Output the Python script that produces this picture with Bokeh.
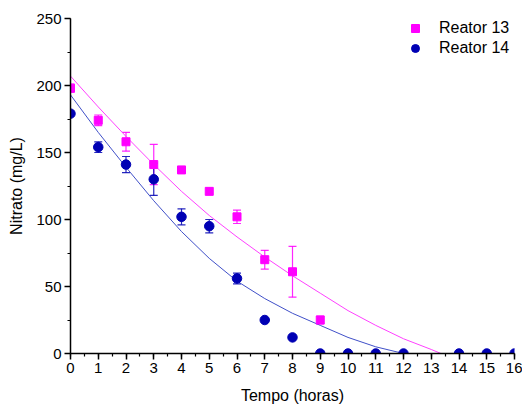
from bokeh.plotting import figure
from bokeh.models import (Range1d, SingleIntervalTicker, Legend, LegendItem,
                          Whisker, TeeHead, ColumnDataSource)
from bokeh.embed import file_html
from bokeh.resources import INLINE

# ---- data ----
hours13 = [0, 1, 2, 3, 4, 5, 6, 7, 8, 9]
reator13 = [198, 174, 158, 141, 137, 121, 102, 70, 61, 25]
err13 = [3, 4, 7, 15, 0, 0, 5, 7, 19, 3]

hours14 = [0, 1, 2, 3, 4, 5, 6, 7, 8, 9, 10, 11, 12, 14, 15, 16]
reator14 = [179, 154, 141, 130, 102, 95, 56, 25, 12, 0, 0, 0, 0, 0, 0, 0]
err14 = [0, 4, 6, 12, 6, 5, 4, 0, 0, 0, 0, 0, 0, 0, 0, 0]

fit_hours13 = [0, 1, 2, 3, 4, 5, 6, 7, 8, 9, 10, 11, 12, 13, 13.35]
fit13 = [207, 184, 162, 141, 121, 103, 87, 72, 58, 45, 32, 21, 11, 3, 0]
fit_hours14 = [0, 1, 2, 3, 4, 5, 6, 7, 8, 9, 10, 11, 12]
fit14 = [193, 165, 139, 114, 91, 71, 54, 41, 30, 21, 12, 5, 0]

labels = ["Reator 13", "Reator 14"]
x_title = "Tempo (horas)"
y_title = "Nitrato (mg/L)"

MAG = "#FF00FF"
BLUE = "#0000B4"
FONT = "Liberation Sans"

p = figure(width=522, height=406, output_backend="svg", toolbar_location=None,
           x_range=Range1d(0, 16), y_range=Range1d(0, 250),
           min_border_left=70, min_border_right=8, min_border_top=18,
           min_border_bottom=52)
p.outline_line_color = None
p.background_fill_color = "white"
p.border_fill_color = "white"
p.xgrid.visible = False
p.ygrid.visible = False

p.xaxis.ticker = SingleIntervalTicker(interval=1, num_minor_ticks=2)
p.yaxis.ticker = SingleIntervalTicker(interval=50, num_minor_ticks=2)
for ax in (p.xaxis, p.yaxis):
    ax.axis_line_width = 1.5
    ax.axis_line_color = "black"
    ax.major_tick_line_color = "black"
    ax.minor_tick_line_color = "black"
    ax.major_tick_line_width = 1.5
    ax.minor_tick_line_width = 1.2
    ax.major_tick_out = 6
    ax.major_tick_in = 0
    ax.minor_tick_out = 3
    ax.minor_tick_in = 0
    ax.major_label_text_font = FONT
    ax.major_label_text_font_size = "15px"
    ax.major_label_text_color = "black"
    ax.axis_label_text_font = FONT
    ax.axis_label_text_font_size = "16px"
    ax.axis_label_text_font_style = "normal"
    ax.axis_label_text_color = "black"
p.xaxis.axis_label = x_title
p.yaxis.axis_label = y_title
p.xaxis.major_label_standoff = 3
p.yaxis.major_label_standoff = 3
p.xaxis.axis_label_standoff = 11
p.yaxis.axis_label_standoff = 8

# fit curves
p.line(fit_hours13, fit13, line_color="#FF40FF", line_width=1)
p.line(fit_hours14, fit14, line_color="#4050C8", line_width=1)

# error bars
def add_whisker(xs, ys, es, color):
    sel = [i for i, e in enumerate(es) if e > 0]
    src = ColumnDataSource(dict(
        x=[xs[i] for i in sel],
        lo=[ys[i] - es[i] for i in sel],
        hi=[ys[i] + es[i] for i in sel]))
    w = Whisker(source=src, base="x", lower="lo", upper="hi",
                line_color=color, line_width=1.2, line_alpha=0.85,
                upper_head=TeeHead(size=8, line_color=color, line_width=1.2, line_alpha=0.85),
                lower_head=TeeHead(size=8, line_color=color, line_width=1.2, line_alpha=0.85))
    p.add_layout(w)

add_whisker(hours13, reator13, err13, MAG)
add_whisker(hours14, reator14, err14, BLUE)

r13 = p.scatter(hours13, reator13, marker="square", size=8,
                fill_color=MAG, line_color=MAG)
r14 = p.scatter(hours14, reator14, marker="circle", size=9.5,
                fill_color=BLUE, line_color=BLUE)

legend = Legend(items=[LegendItem(label=labels[0], renderers=[r13]),
                       LegendItem(label=labels[1], renderers=[r14])],
                location=(335, 295))
legend.border_line_color = None
legend.background_fill_alpha = 0
legend.label_text_font = FONT
legend.label_text_font_size = "16px"
legend.label_text_color = "black"
legend.glyph_width = 20
legend.glyph_height = 20
legend.label_height = 20
legend.label_standoff = 14
legend.spacing = 0
legend.padding = 0
legend.margin = 0
p.add_layout(legend)

open("out.html", "w").write(file_html(p, INLINE))
